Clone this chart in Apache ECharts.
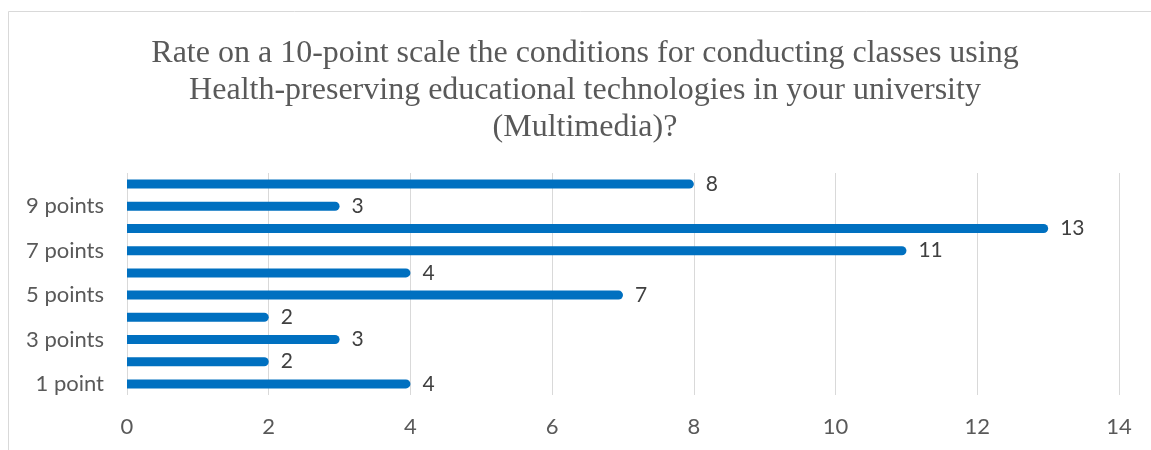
<!DOCTYPE html>
<html>
<head>
<meta charset="utf-8">
<script src="https://cdn.jsdelivr.net/npm/echarts@6/dist/echarts.min.js"></script>
<style>
  html, body { margin: 0; padding: 0; background: #ffffff; }
  #chart { width: 1151px; height: 450px; }
</style>
</head>
<body>
<div id="chart"></div>
<script>
const titleLines = [
  'Rate on a 10-point scale the conditions for conducting classes using',
  'Health-preserving educational technologies in your university',
  '(Multimedia)?'
];
const categories = ['1 point', '2 points', '3 points', '4 points', '5 points',
                    '6 points', '7 points', '8 points', '9 points', '10 points'];
const values = [4, 2, 3, 2, 7, 4, 11, 13, 3, 8];
const xTicks = { min: 0, max: 14, interval: 2 };

const chart = echarts.init(document.getElementById('chart'), null, { renderer: 'canvas' });
chart.setOption({
  animation: false,
  backgroundColor: '#ffffff',
  graphic: [{
    type: 'rect',
    shape: { x: 8.5, y: 11.5, width: 1160, height: 460 },
    style: { fill: 'none', stroke: '#d9d9d9', lineWidth: 1 },
    silent: true, z: -10
  }],
  title: {
    text: titleLines.join('\n'),
    left: 580,
    textAlign: 'center',
    top: 30,
    textStyle: {
      fontFamily: '"Liberation Serif", "Times New Roman", serif',
      fontWeight: 'normal',
      fontSize: 32,
      lineHeight: 37,
      color: '#595959'
    }
  },
  grid: { left: 127, right: 32, top: 173, bottom: 55, containLabel: false },
  xAxis: {
    type: 'value',
    min: xTicks.min, max: xTicks.max, interval: xTicks.interval,
    axisLine: { show: false },
    axisTick: { show: false },
    splitLine: { show: true, lineStyle: { color: '#d9d9d9', width: 1 } },
    axisLabel: {
      color: '#595959', fontFamily: 'Lato, "Open Sans", sans-serif',
      fontSize: 22, margin: 21
    }
  },
  yAxis: {
    type: 'category',
    data: categories,
    axisLine: { show: false },
    axisTick: { show: false },
    axisLabel: {
      interval: 1,
      color: '#595959', fontFamily: 'Lato, "Open Sans", sans-serif',
      fontSize: 22, margin: 23
    }
  },
  series: [{
    type: 'bar',
    data: values,
    barWidth: 9,
    itemStyle: { color: '#0070C0', borderRadius: [0, 4.5, 4.5, 0] },
    label: {
      show: true, position: 'right', distance: 12,
      color: '#404040', fontFamily: 'Lato, "Open Sans", sans-serif', fontSize: 21
    }
  }]
});
</script>
</body>
</html>
